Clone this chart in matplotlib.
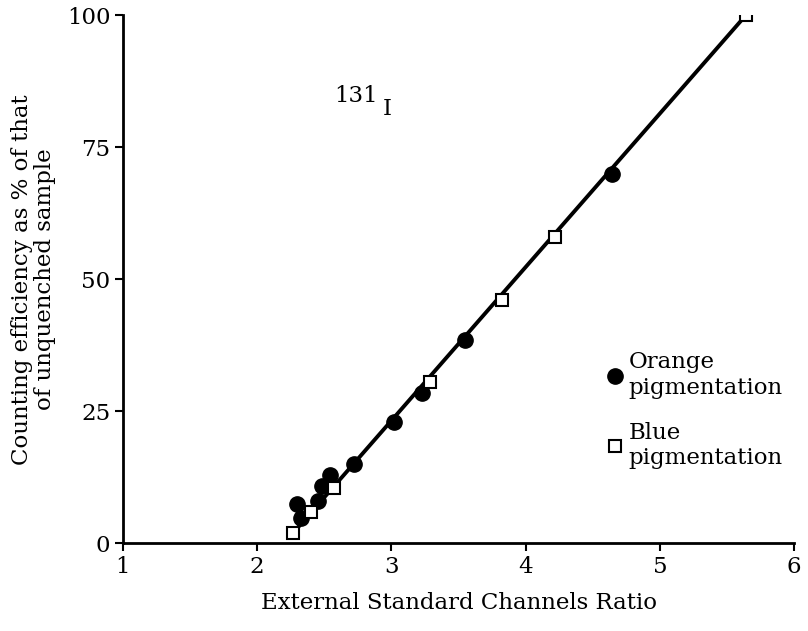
import matplotlib
matplotlib.use("Agg")
import matplotlib.pyplot as plt

# Orange-pigmented samples
orange_x = [2.30, 2.33, 2.45, 2.48, 2.54, 2.72, 3.02, 3.23, 3.55, 4.64]
orange_y = [7.5, 4.8, 8.0, 10.8, 13.0, 15.0, 23.0, 28.5, 38.5, 70.0]

# Blue-pigmented samples
blue_x = [2.27, 2.40, 2.57, 3.29, 3.82, 4.22, 5.64]
blue_y = [2.0, 6.0, 10.5, 30.5, 46.0, 58.0, 100.0]

# Calibration line end points
line_x = [2.27, 5.64]
line_y = [2.0, 100.0]

x_ticks = [1, 2, 3, 4, 5, 6]
y_ticks = [0, 25, 50, 75, 100]

plt.rcParams["font.family"] = ["DejaVu Serif"]
FS = 16.5

fig = plt.figure(figsize=(8.08, 6.31), dpi=100)
ax = fig.add_axes([0.152, 0.139, 0.831, 0.837])

ax.plot(line_x, line_y, color="black", lw=2.8, zorder=2)
ax.plot(orange_x, orange_y, linestyle="none", marker="o", ms=11,
        mfc="black", mec="black", zorder=3, label="Orange\npigmentation")
ax.plot(blue_x, blue_y, linestyle="none", marker="s", ms=8.5,
        mfc="white", mec="black", mew=1.5, zorder=4, label="Blue\npigmentation")

ax.set_xlim(1, 6)
ax.set_ylim(0, 100)
ax.set_xticks(x_ticks)
ax.set_yticks(y_ticks)
ax.tick_params(labelsize=FS, width=1.5, length=6, pad=3, direction="out")
for side in ("top", "right"):
    ax.spines[side].set_visible(False)
for side in ("left", "bottom"):
    ax.spines[side].set_linewidth(2)

ax.set_xlabel("External Standard Channels Ratio", fontsize=FS, labelpad=10)
ax.set_ylabel("Counting efficiency as % of that\nof unquenched sample",
              fontsize=FS, labelpad=8, linespacing=1.05)

ax.text(2.74, 84.7, "131", fontsize=FS, ha="center", va="center")
ax.text(2.97, 82.3, "I", fontsize=FS, ha="center", va="center")

ax.legend(loc="upper left", bbox_to_anchor=(0.705, 0.385), frameon=False,
          fontsize=FS, handlelength=0.6, handletextpad=0.3,
          labelspacing=1.0, borderpad=0)

fig.savefig("out.png", dpi=100)
